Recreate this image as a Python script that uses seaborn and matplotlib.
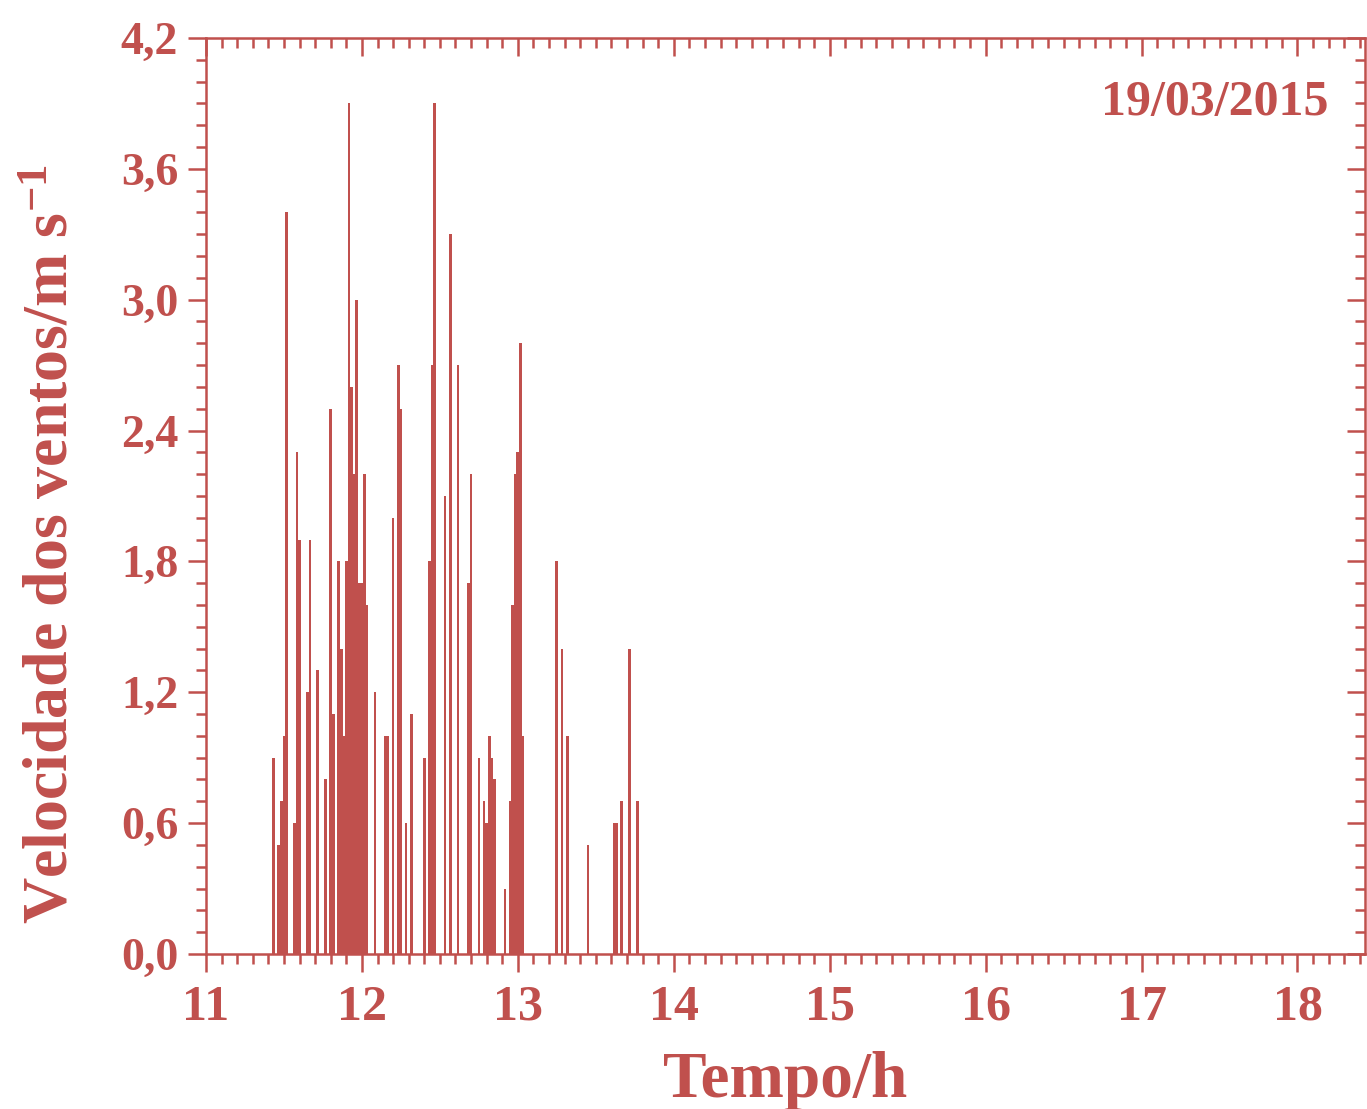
import matplotlib
matplotlib.use("Agg")
import matplotlib.pyplot as plt
import numpy as np
import pandas as pd
import seaborn as sns
from matplotlib.ticker import MultipleLocator, FuncFormatter

# wind speed readings, minutes after 11:00 and speed in m/s
minutos = [26, 28, 29, 30, 31, 34, 35, 36, 39, 40, 43, 46, 48, 49, 51, 52, 53,
           54, 55, 56, 57, 58, 59, 60, 61, 62, 65, 69, 70, 72, 74, 75, 77, 79,
           84, 86, 87, 88, 92, 94, 97, 101, 102, 105, 107, 108, 109, 110, 111,
           115, 117, 118, 119, 120, 121, 122, 135, 137, 139, 147, 157, 158, 160,
           163, 166]
velocidade = [0.9, 0.5, 0.7, 1.0, 3.4, 0.6, 2.3, 1.9, 1.2, 1.9, 1.3, 0.8, 2.5,
              1.1, 1.8, 1.4, 1.0, 1.8, 3.9, 2.6, 2.2, 3.0, 1.7, 1.7, 2.2, 1.6,
              1.2, 1.0, 1.0, 2.0, 2.7, 2.5, 0.6, 1.1, 0.9, 1.8, 2.7, 3.9, 2.1,
              3.3, 2.7, 1.7, 2.2, 0.9, 0.7, 0.6, 1.0, 0.9, 0.8, 0.3, 0.7, 1.6,
              2.2, 2.3, 2.8, 1.0, 1.8, 1.4, 1.0, 0.5, 0.6, 0.6, 0.7, 1.4, 0.7]
data_txt = "19/03/2015"

cor = "#C0504D"

df = pd.DataFrame({"tempo": 11 + np.array(minutos) / 60.0, "vel": velocidade})

sns.set_style("ticks")
plt.rcParams["font.family"] = ["Liberation Serif", "DejaVu Serif"]
plt.rcParams["font.weight"] = "bold"
plt.rcParams["mathtext.fontset"] = "custom"
plt.rcParams["mathtext.rm"] = "Liberation Serif:bold"
plt.rcParams["mathtext.it"] = "Liberation Serif:bold"
plt.rcParams["mathtext.bf"] = "Liberation Serif:bold"

fig = plt.figure(figsize=(13.67, 11.09), dpi=100)
ax = fig.add_axes([0.1507, 0.1398, 0.8475, 0.826])

sns.barplot(data=df, x="tempo", y="vel", native_scale=True, width=1.05,
            color=cor, saturation=1, errorbar=None, linewidth=0, ax=ax)

ax.set_xlim(11, 18.43)
ax.set_ylim(0, 4.2)
ax.xaxis.set_major_locator(MultipleLocator(1))
ax.xaxis.set_minor_locator(MultipleLocator(0.1))
ax.yaxis.set_major_locator(MultipleLocator(0.6))
ax.yaxis.set_minor_locator(MultipleLocator(0.1))
ax.xaxis.set_major_formatter(FuncFormatter(lambda v, p: f"{v:.0f}"))
ax.yaxis.set_major_formatter(FuncFormatter(lambda v, p: f"{v:.1f}".replace(".", ",")))

for s in ax.spines.values():
    s.set_color(cor)
    s.set_linewidth(1.8)

ax.tick_params(which="both", direction="out", colors=cor, width=1.8,
               top=False, right=False)
ax.tick_params(which="major", length=13)
ax.tick_params(which="minor", length=7)
ax.tick_params(axis="x", which="major", labelsize=36, pad=9)
ax.tick_params(axis="y", which="major", labelsize=33, pad=7)
for lab in ax.get_xticklabels() + ax.get_yticklabels():
    lab.set_fontweight("bold")

# inward ticks on top and right
ax2 = ax.secondary_xaxis("top")
ax2.xaxis.set_major_locator(MultipleLocator(1))
ax2.xaxis.set_minor_locator(MultipleLocator(0.1))
ax2.tick_params(which="both", direction="in", colors=cor, width=1.8, labeltop=False)
ax2.tick_params(which="major", length=13)
ax2.tick_params(which="minor", length=7)
ax2.spines["top"].set_visible(False)
ax3 = ax.secondary_yaxis("right")
ax3.yaxis.set_major_locator(MultipleLocator(0.6))
ax3.yaxis.set_minor_locator(MultipleLocator(0.1))
ax3.tick_params(which="both", direction="in", colors=cor, width=1.8, labelright=False)
ax3.tick_params(which="major", length=13)
ax3.tick_params(which="minor", length=7)
ax3.spines["right"].set_visible(False)

ax.set_xlabel("Tempo/h", fontsize=47, fontweight="bold", color=cor)
ax.xaxis.set_label_coords(0.5, -0.106)
ax.set_ylabel("Velocidade dos ventos/m s$^{-1}$", fontsize=46, fontweight="bold",
              color=cor)
ax.yaxis.set_label_coords(-0.107, 0.447)
ax.text(0.969, 0.929, data_txt, transform=ax.transAxes, ha="right", va="center",
        fontsize=36, fontweight="bold", color=cor)

fig.savefig("out.png", dpi=100)
